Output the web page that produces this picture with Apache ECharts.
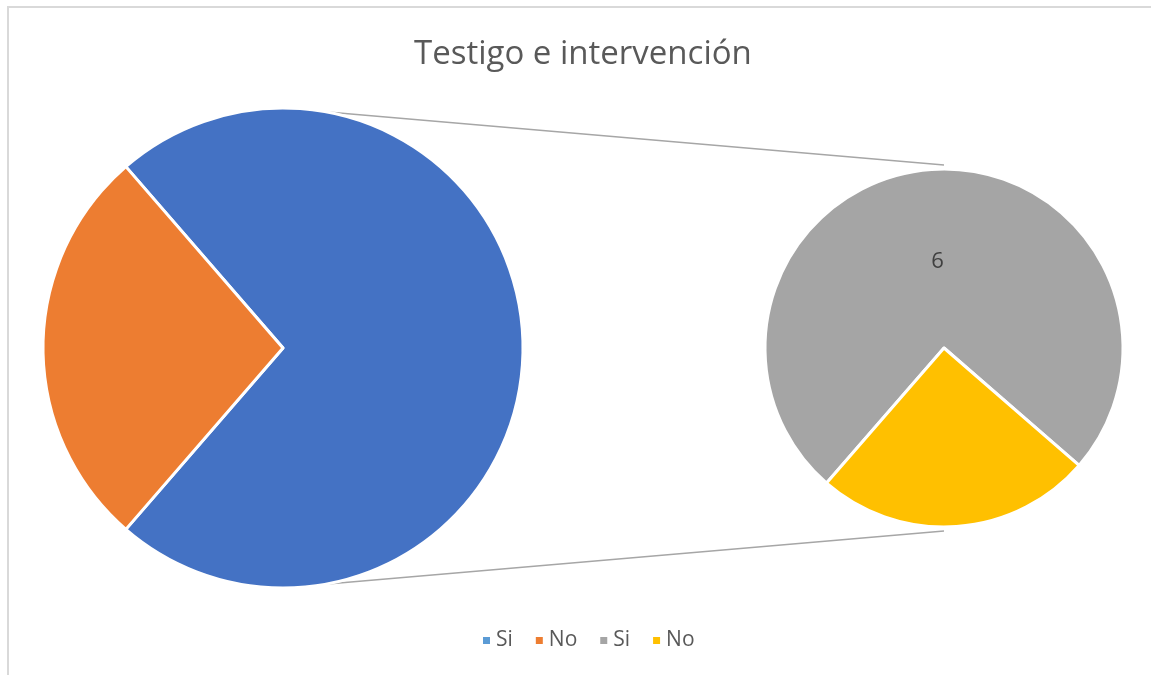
<!DOCTYPE html>
<html>
<head>
<meta charset="utf-8">
<script src="https://cdn.jsdelivr.net/npm/echarts@6/dist/echarts.min.js"></script>
<style>
  html, body { margin: 0; padding: 0; background: #fff; }
  #chart { width: 1151px; height: 675px; }
</style>
</head>
<body>
<div id="chart"></div>
<script>
// datos
const leftNames = ["Si", "No"];
const leftValues = [8, 3];
const rightNames = ["Si", "No"];
const rightValues = [6, 2];
const leftColors = ["#4472C4", "#ED7D31"];
const rightColors = ["#A5A5A5", "#FFC000"];
const legendColors = ["#5B9BD5", "#ED7D31", "#A5A5A5", "#FFC000"];

// geometria de los pasteles
const leftCenter = [283, 348];
const leftR = 240;
const rightCenter = [944, 348];
const rightR = 179;

// "No" del primer pastel centrado a la izquierda
const leftTotal = leftValues[0] + leftValues[1];
const leftStart = 180 - (leftValues[1] / leftTotal) * 360 / 2;

// nombres internos unicos para la leyenda (el segundo pastel lleva un espacio)
const leftData = leftNames.map((n, i) => ({ name: n, value: leftValues[i], itemStyle: { color: leftColors[i] } }));
const rightData = rightNames.map((n, i) => ({
  name: n + " ",
  value: rightValues[i],
  itemStyle: { color: rightColors[i] },
  label: { show: i === 0 }
}));
const legendData = leftData.map(d => d.name).concat(rightData.map(d => d.name))
  .map((n, i) => ({ name: n, itemStyle: { color: legendColors[i] } }));

// lineas de conexion
const a = 80 * Math.PI / 180;
const p1 = [leftCenter[0] + leftR * Math.cos(a), leftCenter[1] - leftR * Math.sin(a)];
const p2 = [leftCenter[0] + leftR * Math.cos(a), leftCenter[1] + leftR * Math.sin(a)];
const q1 = [rightCenter[0], rightCenter[1] - rightR - 4];
const q2 = [rightCenter[0], rightCenter[1] + rightR + 4];

let myChart = echarts.init(document.getElementById("chart"));
myChart.setOption({
  backgroundColor: "#fff",
  animation: false,
  title: {
    text: "Testigo e intervención",
    left: 409,
    top: 33,
    textStyle: {
      fontFamily: "Open Sans",
      fontSize: 33,
      fontWeight: "normal",
      color: "#595959"
    }
  },
  legend: {
    data: legendData,
    bottom: 19,
    left: 476,
    icon: "rect",
    itemWidth: 9,
    itemHeight: 9,
    itemGap: 21,
    formatter: n => n.trim(),
    textStyle: { fontFamily: "Open Sans", fontSize: 21, color: "#595959" }
  },
  graphic: [
    {
      type: "rect",
      z: -10,
      shape: { x: 8, y: 7, width: 1160, height: 690 },
      style: { fill: null, stroke: "#d9d9d9", lineWidth: 2 }
    },
    {
      type: "line",
      shape: { x1: p1[0], y1: p1[1], x2: q1[0], y2: q1[1] },
      style: { stroke: "#a6a6a6", lineWidth: 1.5 }
    },
    {
      type: "line",
      shape: { x1: p2[0], y1: p2[1], x2: q2[0], y2: q2[1] },
      style: { stroke: "#a6a6a6", lineWidth: 1.5 }
    }
  ],
  series: [
    {
      type: "pie",
      center: leftCenter,
      radius: leftR,
      startAngle: leftStart,
      clockwise: true,
      label: { show: false },
      labelLine: { show: false },
      itemStyle: { borderColor: "#fff", borderWidth: 3 },
      emphasis: { disabled: true },
      data: leftData
    },
    {
      type: "pie",
      center: rightCenter,
      radius: rightR,
      startAngle: 229,
      clockwise: true,
      label: {
        show: false,
        position: "inside",
        formatter: "{v|{c}}",
        rich: {
          v: {
            fontFamily: "Open Sans",
            fontSize: 22,
            color: "#404040",
            padding: [12, 0, 0, 0]
          }
        }
      },
      labelLine: { show: false },
      itemStyle: { borderColor: "#fff", borderWidth: 3 },
      emphasis: { disabled: true },
      data: rightData
    }
  ]
});
window.onresize = myChart.resize;
</script>
</body>
</html>
